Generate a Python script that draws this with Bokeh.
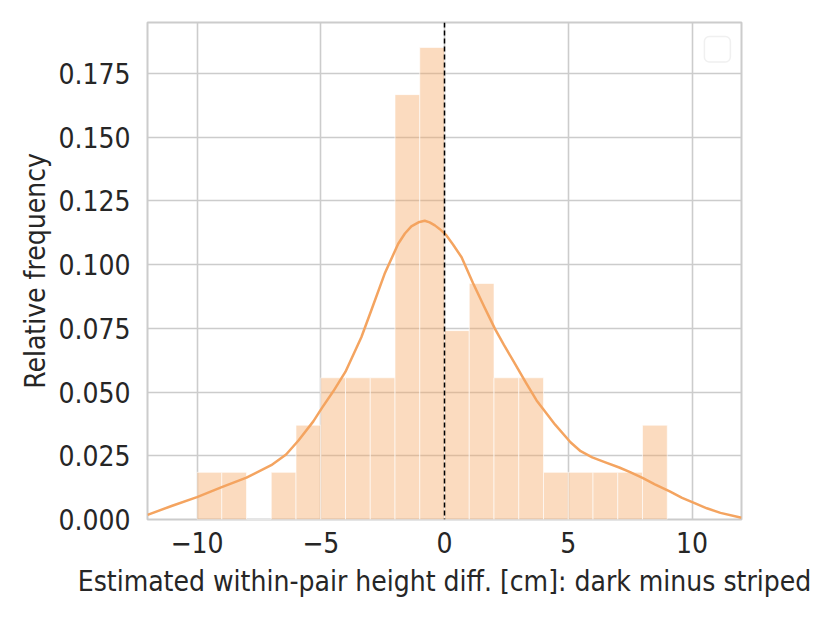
from bokeh.plotting import figure
from bokeh.models import Span, BoxAnnotation, FixedTicker, NumeralTickFormatter, Range1d
from bokeh.embed import file_html
from bokeh.resources import INLINE

# Histogram bins (width 1 cm) and relative frequencies
bin_left = [-10, -9, -8, -7, -6, -5, -4, -3, -2, -1, 0, 1, 2, 3, 4, 5, 6, 7, 8]
bin_right = [-9, -8, -7, -6, -5, -4, -3, -2, -1, 0, 1, 2, 3, 4, 5, 6, 7, 8, 9]
rel_freq = [0.0185, 0.0185, 0.0, 0.0185, 0.0370, 0.0556, 0.0556, 0.0556, 0.1667,
            0.1852, 0.0741, 0.0926, 0.0556, 0.0556, 0.0185, 0.0185, 0.0185, 0.0185, 0.0370]

# KDE curve
kde_x = [-12, -11, -10, -9, -8, -7, -6.4, -5.9, -5.3, -4.95, -4.5, -4.0, -3.36, -2.96,
         -2.42, -1.87, -1.6, -1.34, -1.05, -0.8, -0.6, -0.39, -0.2, 0.05, 0.35, 0.69,
         1.15, 1.6, 2.04, 2.4, 2.85, 3.3, 3.72, 4.0, 4.47, 5.09, 5.5, 5.97, 6.5, 7.06,
         7.5, 8.02, 8.5, 9.1, 9.6, 10.13, 10.6, 11.15, 12]
kde_y = [0.0018, 0.0054, 0.0088, 0.0127, 0.0164, 0.0213, 0.0255, 0.0310, 0.0385, 0.0438,
         0.0502, 0.0580, 0.0715, 0.0820, 0.0964, 0.1082, 0.1122, 0.1150, 0.1166, 0.1172,
         0.1166, 0.1154, 0.1140, 0.1118, 0.1078, 0.1029, 0.0928, 0.0836, 0.0748, 0.0685,
         0.0611, 0.0535, 0.0467, 0.0432, 0.0372, 0.0303, 0.0268, 0.0244, 0.0224, 0.0204,
         0.0186, 0.0162, 0.0138, 0.0110, 0.0085, 0.0063, 0.0044, 0.0026, 0.0007]

y_ticks = [0.0, 0.025, 0.05, 0.075, 0.1, 0.125, 0.15, 0.175]
x_ticks = [-10, -5, 0, 5, 10]
x_tick_labels = {-10: "\u221210", -5: "\u22125", 0: "0", 5: "5", 10: "10"}

FONT = "DejaVu Sans Condensed"
TXT = "#262626"
GRID = "#cccccc"
ORANGE = "#f4a460"

p = figure(width=822, height=615, output_backend="svg", toolbar_location=None,
           x_range=Range1d(-12, 12), y_range=Range1d(0, 0.195))
p.min_border_left = 147
p.min_border_right = 81
p.min_border_top = 22
p.min_border_bottom = 96

p.quad(left=bin_left, right=bin_right, bottom=0, top=rel_freq,
       fill_color=ORANGE, fill_alpha=0.4, line_color="white", line_alpha=0.6, line_width=1)
p.line(kde_x, kde_y, line_color=ORANGE, line_width=2.5, line_join="round")

p.add_layout(Span(location=0, dimension="height", line_color="black",
                  line_dash="5 3", line_width=1.5))

# empty legend box
p.add_layout(BoxAnnotation(left=10.5, right=11.55, top=0.1895, bottom=0.1795,
                           fill_color="white", fill_alpha=1.0, line_color=GRID,
                           line_width=1.5, border_radius=5))

p.outline_line_color = GRID
p.outline_line_width = 2
p.background_fill_color = "white"
p.border_fill_color = "white"

for g in (p.xgrid, p.ygrid):
    g.grid_line_color = GRID
    g.grid_line_width = 1.6
p.xgrid.ticker = FixedTicker(ticks=x_ticks)
p.ygrid.ticker = FixedTicker(ticks=y_ticks)

p.xaxis.ticker = FixedTicker(ticks=x_ticks)
p.xaxis.major_label_overrides = x_tick_labels
p.yaxis.ticker = FixedTicker(ticks=y_ticks)
p.yaxis.formatter = NumeralTickFormatter(format="0.000")

p.xaxis.axis_label = "Estimated within-pair height diff. [cm]: dark minus striped"
p.yaxis.axis_label = "Relative frequency"

for ax in (p.xaxis[0], p.yaxis[0]):
    ax.axis_line_color = None
    ax.major_tick_line_color = None
    ax.minor_tick_line_color = None
    ax.major_tick_out = 0
    ax.major_tick_in = 0
    ax.major_label_text_font = FONT
    ax.major_label_text_font_size = "28px"
    ax.major_label_text_color = TXT
    ax.axis_label_text_font = FONT
    ax.axis_label_text_font_size = "28px"
    ax.axis_label_text_font_style = "normal"
    ax.axis_label_text_color = TXT

p.xaxis.major_label_standoff = 12
p.yaxis.major_label_standoff = 17
p.xaxis.axis_label_standoff = 9
p.yaxis.axis_label_standoff = 3

open("out.html", "w").write(file_html(p, INLINE))
